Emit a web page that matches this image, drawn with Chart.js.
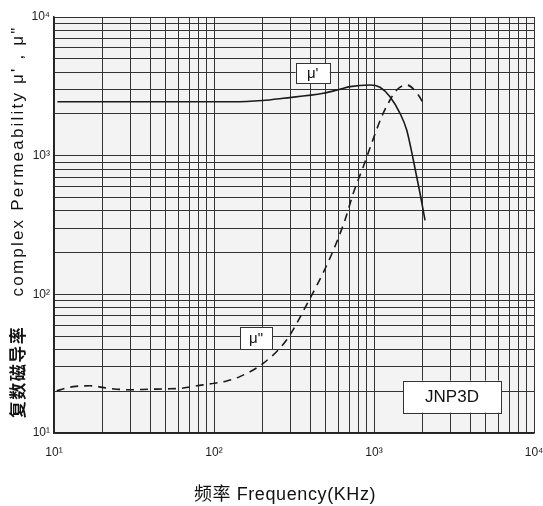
<!DOCTYPE html>
<html>
<head>
<meta charset="utf-8">
<script src="https://cdn.jsdelivr.net/npm/chart.js@4/dist/chart.umd.min.js"></script>
<style>
  html, body { margin: 0; padding: 0; background: #fff; }
  #wrap { width: 543px; height: 506px; position: relative; }
</style>
</head>
<body>
<div id="wrap"><canvas id="permChart"></canvas></div>
<script>
// frequency in kHz, permeability values
const MU_REAL_FREQ = [10.5, 30, 131, 200, 271, 482, 613, 708, 944, 1090, 1259, 1454, 1601, 1761, 1939, 2084];
const MU_REAL = [2450, 2450, 2450, 2500, 2594, 2820, 3013, 3145, 3234, 3112, 2664, 2021, 1532, 931, 536, 342];

const MU_IMAG_FREQ = [10.4, 13.2, 16.8, 21.8, 29.9, 39.8, 50.6, 64.3, 78.1, 94.4, 120, 145, 203, 284, 379, 530, 659, 742, 857, 967, 1117, 1259, 1387, 1601, 1892, 2084];
const MU_IMAG = [20.2, 21.6, 21.9, 21.0, 20.5, 20.7, 20.8, 21.1, 21.9, 22.6, 23.7, 25.5, 31.8, 46.9, 84, 182, 344, 536, 833, 1229, 1911, 2521, 2977, 3234, 2739, 2256];

const DECADES = [10, 100, 1000, 10000];
const DECADE_LABELS = ["10¹", "10²", "10³", "10⁴"];
const GRID_STEPS = [1, 2, 3, 4, 5, 6, 7, 8, 9];

const CURVE_TAGS = ["μ'", "μ\""];
const MATERIAL = "JNP3D";
const X_TITLE = "频率 Frequency(KHz)";
const Y_TITLE_CN = "复数磁导率";
const Y_TITLE_EN = "complex Permeability μ' , μ\"";

const LATIN = "'Liberation Sans', Arial, 'Noto Sans CJK SC', sans-serif";
const CJK = "'Noto Sans CJK SC', 'Liberation Sans', sans-serif";

function gridTicks(scale) {
  const ticks = [];
  DECADES.slice(0, -1).forEach((d) => {
    GRID_STEPS.forEach((s) => ticks.push({ value: d * s }));
  });
  ticks.push({ value: DECADES[DECADES.length - 1] });
  scale.ticks = ticks;
}

function decadeLabel(value) {
  const i = DECADES.indexOf(value);
  return i >= 0 ? DECADE_LABELS[i] : "";
}

function points(xs, ys) {
  return xs.map((x, i) => ({ x, y: ys[i] }));
}

const plotBackground = {
  id: "plotBackground",
  beforeDraw(chart) {
    const { ctx, chartArea: a } = chart;
    ctx.save();
    ctx.fillStyle = "#f3f3f3";
    ctx.fillRect(a.left, a.top, a.right - a.left, a.bottom - a.top);
    ctx.restore();
  }
};

const tagBoxes = {
  id: "tagBoxes",
  afterDatasetsDraw(chart) {
    const { ctx, scales } = chart;
    const tags = [
      { text: CURVE_TAGS[0], f: 414, v: 3930, w: 34, h: 20, size: 15 },
      { text: CURVE_TAGS[1], f: 183, v: 48.5, w: 32, h: 22, size: 15 },
      { text: MATERIAL, f: 3073, v: 18.3, w: 98, h: 32, size: 17 }
    ];
    ctx.save();
    tags.forEach((t) => {
      const cx = scales.x.getPixelForValue(t.f);
      const cy = scales.y.getPixelForValue(t.v);
      ctx.fillStyle = "#fff";
      ctx.strokeStyle = "#333";
      ctx.lineWidth = 1;
      ctx.fillRect(cx - t.w / 2, cy - t.h / 2, t.w, t.h);
      ctx.strokeRect(Math.round(cx - t.w / 2) + 0.5, Math.round(cy - t.h / 2) + 0.5, t.w, t.h);
      ctx.fillStyle = "#111";
      ctx.font = `${t.size}px ${LATIN}`;
      ctx.textAlign = "center";
      ctx.textBaseline = "middle";
      ctx.fillText(t.text, cx, cy + 1);
    });
    ctx.restore();
  }
};

const axisTitles = {
  id: "axisTitles",
  afterDraw(chart) {
    const { ctx, chartArea: a } = chart;
    ctx.save();
    ctx.fillStyle = "#111";
    ctx.textBaseline = "middle";
    ctx.textAlign = "center";

    // x title under the axis
    ctx.font = `18px ${LATIN}`;
    ctx.letterSpacing = "0.6px";
    ctx.fillText(X_TITLE, a.left + 231, 495);

    // y title, rotated, reading bottom to top
    ctx.translate(18, 0);
    ctx.rotate(-Math.PI / 2);
    ctx.font = `bold 17px ${CJK}`;
    ctx.letterSpacing = "1.5px";
    ctx.fillText(Y_TITLE_CN, -372, 0);
    ctx.font = `17px ${LATIN}`;
    ctx.letterSpacing = "2.2px";
    ctx.fillText(Y_TITLE_EN, -161, 0);
    ctx.restore();
  }
};

new Chart(document.getElementById("permChart"), {
  type: "line",
  data: {
    datasets: [
      {
        label: "μ'",
        data: points(MU_REAL_FREQ, MU_REAL),
        borderColor: "#1a1a1a",
        borderWidth: 1.6,
        pointRadius: 0,
        cubicInterpolationMode: "monotone",
        fill: false
      },
      {
        label: "μ\"",
        data: points(MU_IMAG_FREQ, MU_IMAG),
        borderColor: "#1a1a1a",
        borderWidth: 1.6,
        borderDash: [8, 6],
        pointRadius: 0,
        cubicInterpolationMode: "monotone",
        fill: false
      }
    ]
  },
  options: {
    responsive: true,
    maintainAspectRatio: false,
    animation: false,
    layout: { padding: { top: 17, right: 9, left: 0, bottom: 0 } },
    plugins: {
      legend: { display: false },
      tooltip: { enabled: false }
    },
    scales: {
      x: {
        type: "logarithmic",
        min: 10,
        max: 10000,
        afterBuildTicks: gridTicks,
        afterFit(scale) {
          scale.height = 73;
          // keep the end labels from pushing the plot edges in
          scale.paddingLeft = 0;
          scale.paddingRight = 0;
        },
        grid: { color: "#333", lineWidth: 1, drawTicks: false },
        border: { color: "#222", width: 1.5 },
        ticks: {
          autoSkip: false,
          maxRotation: 0,
          padding: 12,
          color: "#222",
          font: { family: LATIN, size: 12 },
          callback: (v) => decadeLabel(v)
        }
      },
      y: {
        type: "logarithmic",
        min: 10,
        max: 10000,
        afterBuildTicks: gridTicks,
        afterFit(scale) {
          scale.width = 54;
          scale.paddingTop = 0;
          scale.paddingBottom = 0;
        },
        grid: { color: "#333", lineWidth: 1, drawTicks: false },
        border: { color: "#222", width: 1.5 },
        ticks: {
          autoSkip: false,
          padding: 4,
          color: "#222",
          font: { family: LATIN, size: 12 },
          callback: (v) => decadeLabel(v)
        }
      }
    }
  },
  plugins: [plotBackground, tagBoxes, axisTitles]
});
</script>
</body>
</html>
